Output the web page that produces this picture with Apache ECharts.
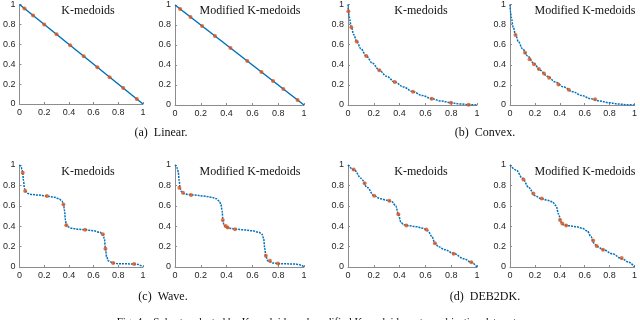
<!DOCTYPE html>
<html><head><meta charset="utf-8">
<script src="https://cdn.jsdelivr.net/npm/echarts@6/dist/echarts.min.js"></script>
<style>html,body{margin:0;padding:0;background:#fff}#c{width:640px;height:320px}</style>
</head><body><div id="c"></div>
<script>
// ---- data ----
const tickLabels = ['0','0.2','0.4','0.6','0.8','1'];
const panelTitles = ['K-medoids','Modified K-medoids','K-medoids','Modified K-medoids','K-medoids','Modified K-medoids','K-medoids','Modified K-medoids'];
const captions = ['(a)  Linear.','(b)  Convex.','(c)  Wave.','(d)  DEB2DK.'];
const figCaption = 'Fig. 4.   Subsets selected by K-medoids and modified K-medoids on two-objective data sets.';

const linearCurve = [[0,1],[0.5,0.5],[1,0]];
const convexCurve = [[0,1],[0.003,0.934],[0.01,0.87],[0.026,0.773],[0.045,0.70],[0.067,0.632],[0.1,0.56],[0.142,0.487],[0.19,0.415],[0.243,0.345],[0.3,0.285],[0.362,0.23],[0.43,0.18],[0.504,0.132],[0.575,0.095],[0.649,0.062],[0.72,0.04],[0.798,0.022],[0.87,0.01],[0.935,0.003],[1,0]];
const waveCurve = [[0,1],[0.01,0.99],[0.02,0.96],[0.026,0.925],[0.032,0.85],[0.04,0.77],[0.05,0.74],[0.07,0.72],[0.1,0.71],[0.15,0.705],[0.222,0.695],[0.28,0.685],[0.32,0.67],[0.345,0.645],[0.356,0.613],[0.365,0.55],[0.372,0.46],[0.379,0.41],[0.39,0.395],[0.42,0.38],[0.48,0.37],[0.531,0.364],[0.6,0.355],[0.65,0.34],[0.675,0.321],[0.687,0.28],[0.696,0.18],[0.705,0.1],[0.72,0.06],[0.758,0.039],[0.8,0.033],[0.85,0.031],[0.928,0.03],[0.96,0.025],[0.98,0.015],[1,0]];
const debCurve = [[0,1],[0.05,0.95],[0.1,0.87],[0.15,0.78],[0.2,0.70],[0.25,0.67],[0.3,0.655],[0.34,0.64],[0.37,0.6],[0.39,0.52],[0.41,0.44],[0.43,0.415],[0.47,0.405],[0.53,0.395],[0.58,0.38],[0.62,0.355],[0.65,0.30],[0.674,0.233],[0.7,0.2],[0.75,0.17],[0.82,0.131],[0.9,0.08],[0.956,0.046],[1,0]];

const linearKX = [0.04,0.11,0.2,0.3,0.41,0.52,0.63,0.73,0.84,0.95];
const linearKY = [0.96,0.89,0.8,0.7,0.59,0.48,0.37,0.27,0.16,0.05];
const linearMX = [0.04,0.12,0.21,0.31,0.43,0.56,0.67,0.76,0.84,0.95];
const linearMY = [0.96,0.88,0.79,0.69,0.57,0.44,0.33,0.24,0.16,0.05];
const convexKX = [0.003,0.026,0.067,0.142,0.243,0.362,0.504,0.649,0.798,0.935];
const convexKY = [0.934,0.773,0.632,0.487,0.345,0.23,0.132,0.062,0.022,0.003];
const convexMX = [0.044,0.121,0.157,0.193,0.232,0.273,0.314,0.389,0.472,0.683];
const convexMY = [0.697,0.52,0.454,0.405,0.359,0.313,0.27,0.204,0.151,0.056];
const waveKX = [0.026,0.046,0.222,0.356,0.379,0.531,0.675,0.696,0.758,0.928];
const waveKY = [0.925,0.745,0.695,0.613,0.41,0.364,0.321,0.18,0.039,0.03];
const waveMX = [0.034,0.062,0.124,0.37,0.393,0.408,0.465,0.704,0.736,0.798];
const waveMY = [0.777,0.728,0.705,0.462,0.403,0.387,0.37,0.111,0.062,0.034];
const debKX = [0.044,0.129,0.202,0.32,0.39,0.452,0.607,0.674,0.819,0.956];
const debKY = [0.957,0.82,0.698,0.649,0.518,0.407,0.367,0.233,0.131,0.046];
const debMX = [0.108,0.188,0.255,0.402,0.42,0.451,0.668,0.696,0.747,0.897];
const debMY = [0.859,0.721,0.672,0.462,0.426,0.407,0.259,0.207,0.17,0.089];

// ---- layout ----
const grids = [
  {left:13,top:4,width:130,height:100},
  {left:175,top:5,width:129,height:100},
  {left:348,top:4,width:129,height:101},
  {left:510,top:4,width:128,height:101},
  {left:13,top:165,width:130,height:102},
  {left:175,top:165,width:129,height:102},
  {left:348,top:165,width:129,height:102},
  {left:510,top:165,width:128,height:102}
];
const titlePos = [[83,7],[245,7],[416,7],[580,7],[83,168],[245,168],[416,168],[580,168]];
const capPos = [[156,129],[480,129],[158,293],[480,293]];

const curves = [linearCurve,linearCurve,convexCurve,convexCurve,waveCurve,waveCurve,debCurve,debCurve];
const pts = [[linearKX,linearKY],[linearMX,linearMY],[convexKX,convexKY],[convexMX,convexMY],[waveKX,waveKY],[waveMX,waveMY],[debKX,debKY],[debMX,debMY]];

const BLUE='#0072BD', RED='#D95319', AX='#8c8c8c';
const xAxis=[], yAxis=[], series=[];
grids.forEach((g,i)=>{
  const common = {type:'value',min:0,max:1,interval:0.2,gridIndex:i,
    axisLine:{show:true,lineStyle:{color:AX,width:1}},
    axisTick:{show:true,inside:true,length:2,lineStyle:{color:AX}},
    splitLine:{show:false},
    axisLabel:{color:'#262626',fontFamily:'Liberation Sans, Arial, sans-serif',fontSize:9,
      formatter:v=>tickLabels[Math.round(v*5)]}};
  xAxis.push(Object.assign({},common,{axisLabel:Object.assign({},common.axisLabel,{margin:4})}));
  yAxis.push(Object.assign({},common,{axisLabel:Object.assign({},common.axisLabel,{margin:4})}));
  series.push({type:'line',xAxisIndex:i,yAxisIndex:i,data:curves[i],showSymbol:false,
    smooth:i<2?false:0.35,smoothMonotone:'x',
    lineStyle:{color:BLUE,width:1.5,type:i<2?'solid':[2,1]},silent:true,z:2});
  series.push({type:'scatter',xAxisIndex:i,yAxisIndex:i,
    data:pts[i][0].map((x,k)=>[x,pts[i][1][k]]),symbol:'circle',symbolSize:4,
    itemStyle:{color:RED},z:3});
});
const titles = panelTitles.map((t,i)=>({text:t,left:titlePos[i][0],top:titlePos[i][1]-7,textAlign:'center',
  textStyle:{fontFamily:'Liberation Serif, Times New Roman, serif',fontSize:12,fontWeight:'normal',color:'#111'}}));
captions.forEach((t,i)=>titles.push({text:t,left:capPos[i][0],top:capPos[i][1]-7,textAlign:'center',
  textStyle:{fontFamily:'Liberation Serif, Times New Roman, serif',fontSize:12,fontWeight:'normal',color:'#111'}}));
titles.push({text:figCaption,left:320,top:317,textAlign:'center',padding:0,
  textStyle:{fontFamily:'Liberation Serif, Times New Roman, serif',fontSize:11,fontWeight:'normal',color:'#111'}});

const chart = echarts.init(document.getElementById('c'),null,{renderer:'canvas'});
chart.setOption({animation:false,backgroundColor:'#fff',title:titles,grid:grids,xAxis,yAxis,series});
</script></body></html>
